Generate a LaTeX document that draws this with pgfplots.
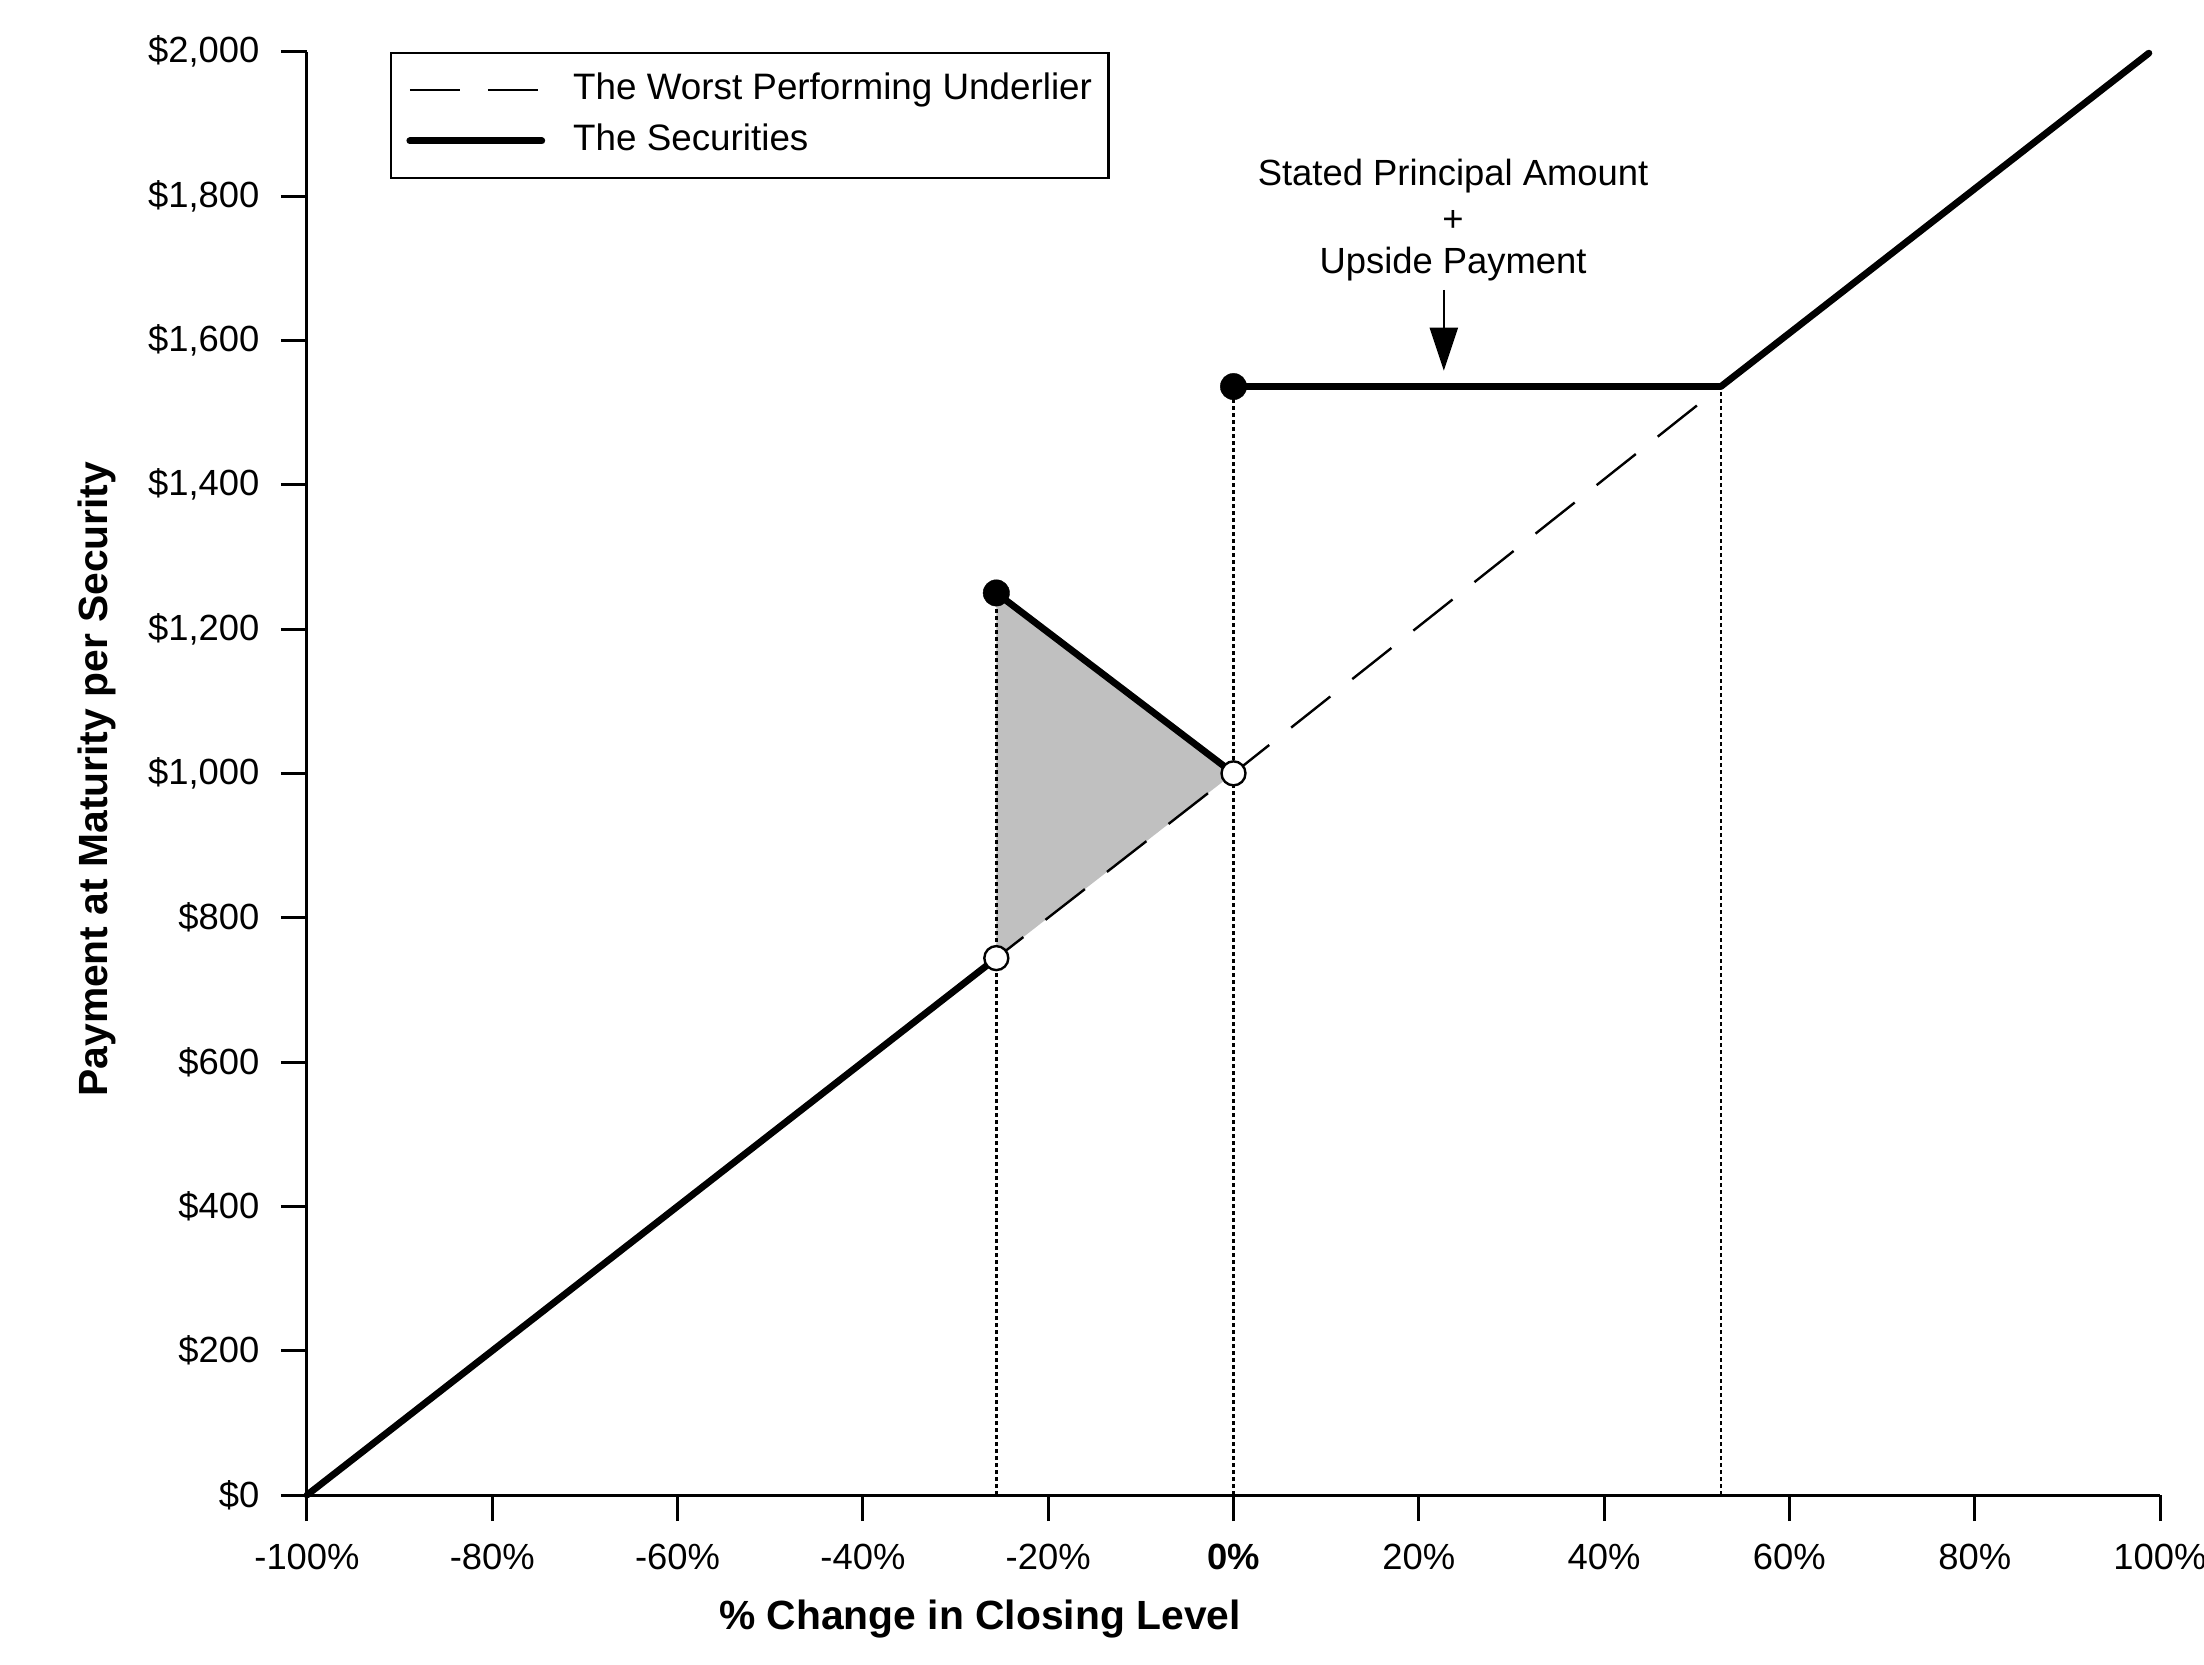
\documentclass[border=0pt]{standalone}
\usepackage{fontspec}
\setmainfont{Liberation Sans}
\usepackage{pgfplots}
\pgfplotsset{compat=1.18}
\usetikzlibrary{arrows.meta}
\definecolor{shade}{RGB}{192,192,192}
\begin{document}
\begin{tikzpicture}
\useasboundingbox (-76.75pt,-42.25pt) rectangle (474.25pt,373.75pt);
\begin{axis}[
  at={(0pt,0pt)}, anchor=south west,
  scale only axis, width=463.25pt, height=360.83pt,
  xmin=-100, xmax=100, ymin=0, ymax=2000,
  enlargelimits=false,
  axis x line=bottom, axis y line=left,
  axis line style={-, line width=0.75pt, black},
  tick align=outside, major tick length=6.5pt,
  tick style={line width=0.75pt, black},
  xtick={-100,-80,...,100},
  xticklabels={-100\%,-80\%,-60\%,-40\%,-20\%,\textbf{0\%},20\%,40\%,60\%,80\%,100\%},
  ytick={0,200,...,2000},
  yticklabels={\$0,\$200,\$400,\$600,\$800,{\$1,000},{\$1,200},{\$1,400},{\$1,600},{\$1,800},{\$2,000}},
  ticklabel style={font=\fontsize{9.1}{11}\selectfont},
  yticklabel style={xshift=-1.85pt},
  xticklabel style={yshift=-2.2pt},
  xlabel={\% Change in Closing Level},
  ylabel={Payment at Maturity per Security},
  every axis x label/.style={at={(rel axis cs:0.3632,0)}, anchor=base, yshift=-33.5pt, font=\bfseries\fontsize{10.2}{12}\selectfont},
  every axis y label/.style={at={(rel axis cs:0,0.496)}, xshift=-49.75pt, rotate=90, anchor=base, font=\bfseries\fontsize{10.2}{12}\selectfont},
  clip=false,
  legend style={at={(rel axis cs:0.0448,1)}, anchor=north west, draw=black, line width=0.6pt, fill=white,
    inner xsep=3.8pt, inner ysep=5pt, row sep=4.25pt, column sep=7pt,
    nodes={inner sep=0pt, text height=6.6pt, text depth=1.9pt, font=\fontsize{9.2}{11}\selectfont}},
  legend cell align=left,
  legend image code/.code={\draw[#1] (0pt,0pt) -- (33pt,0pt);},
]
% shaded region
\addplot[fill=shade, draw=none, forget plot] coordinates {(-25.6,744) (-25.6,1250) (0,1000)};
% dotted guides
\addplot[black, line width=0.65pt, dash pattern=on 0.9pt off 0.85pt, unbounded coords=jump, forget plot]
  coordinates {(-25.6,0) (-25.6,1250) (-25.6,nan) (0,0) (0,1536) (0,nan) (52.6,0) (52.6,1536)};
% underlier
\addplot[black, line width=0.6pt, dash pattern=on 12.5pt off 7pt] coordinates {(-100,0) (-25.6,744) (0,1000) (52.6,1536) (98.8,1998)};
\addlegendentry{\makebox[130pt][l]{The Worst Performing Underlier}}
% securities
\addplot[black, line width=1.7pt, line cap=round, line join=round, unbounded coords=jump]
  coordinates {(-100,0) (-25.6,744) (-25.6,nan) (-25.6,1250) (0,1000) (0,nan) (0,1536) (52.6,1536) (98.8,1998)};
\addlegendentry{The Securities}
% markers
\addplot[only marks, mark=*, mark size=3.3pt, mark options={fill=black, draw=black, line width=0.1pt}, forget plot]
  coordinates {(-25.6,1250) (0,1536)};
\addplot[only marks, mark=*, mark size=3pt, mark options={fill=white, draw=black, line width=0.6pt}, forget plot]
  coordinates {(-25.6,744) (0,1000)};
% annotation
\node[anchor=base, font=\fontsize{9.1}{11}\selectfont] at (axis cs:23.7,1814) {Stated Principal Amount};
\node[anchor=base, font=\fontsize{9.1}{11}\selectfont] at (axis cs:23.7,1751) {+};
\node[anchor=base, font=\fontsize{9.1}{11}\selectfont] at (axis cs:23.7,1693) {Upside Payment};
\draw[line width=0.6pt, -{Triangle[length=10.75pt, width=7pt]}] (axis cs:22.7,1670) -- (axis cs:22.7,1558);
\end{axis}
\end{tikzpicture}
\end{document}
